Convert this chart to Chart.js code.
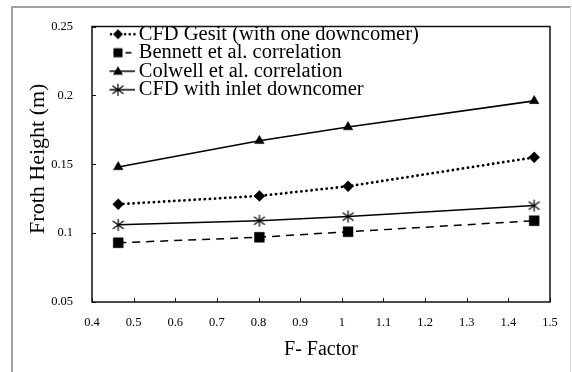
<!DOCTYPE html>
<html>
<head>
<meta charset="utf-8">
<script src="https://cdn.jsdelivr.net/npm/chart.js"></script>
<style>
  body { margin: 0; background: #fff; }
</style>
</head>
<body>
<canvas id="frothChart" width="572" height="372"></canvas>
<script>
// data
var fFactor = [0.463, 0.802, 1.015, 1.462];
var cfdGesit = [0.121, 0.127, 0.134, 0.155];
var bennett = [0.093, 0.097, 0.101, 0.109];
var colwell = [0.148, 0.167, 0.177, 0.196];
var cfdInlet = [0.106, 0.109, 0.112, 0.120];
var seriesNames = ['CFD Gesit (with one downcomer)', 'Bennett et al. correlation',
                   'Colwell et al. correlation', 'CFD with inlet downcomer'];
var xTickLabels = ['0.4', '0.5', '0.6', '0.7', '0.8', '0.9', '1', '1.1', '1.2', '1.3', '1.4', '1.5'];
var yTickLabels = ['0.05', '0.1', '0.15', '0.2', '0.25'];

function pairs(ys) {
  return fFactor.map(function(x, i) { return {x: x, y: ys[i]}; });
}

// excel style star marker (x with a vertical bar)
function drawStar(g, cx, cy) {
  g.save();
  g.strokeStyle = '#000';
  g.lineWidth = 1.2;
  g.setLineDash([]);
  g.beginPath();
  g.moveTo(cx, cy - 6); g.lineTo(cx, cy + 6);
  g.moveTo(cx - 5.5, cy - 4); g.lineTo(cx + 5.5, cy + 4);
  g.moveTo(cx + 5.5, cy - 4); g.lineTo(cx - 5.5, cy + 4);
  g.stroke();
  g.restore();
}
var starImg = document.createElement('canvas');
starImg.width = 14; starImg.height = 14;
drawStar(starImg.getContext('2d'), 7, 7);

// legend icons: line sample + marker
function makeIcon(dash, lw, cap, marker) {
  var c = document.createElement('canvas');
  c.width = 36; c.height = 16;
  var g = c.getContext('2d');
  g.strokeStyle = '#000';
  g.fillStyle = '#000';
  g.lineWidth = lw;
  g.lineCap = cap;
  g.setLineDash(dash);
  g.beginPath(); g.moveTo(1.5, 8); g.lineTo(35, 8); g.stroke();
  g.setLineDash([]);
  marker(g, 18, 8);
  return c;
}
var legendIcons = [
  makeIcon([0.1, 4.6], 2.6, 'round', function(g, x, y) {
    g.beginPath(); g.moveTo(x - 5, y); g.lineTo(x, y - 5); g.lineTo(x + 5, y); g.lineTo(x, y + 5); g.closePath(); g.fill();
  }),
  makeIcon([6, 6], 1.6, 'butt', function(g, x, y) {
    g.fillRect(x - 4.5, y - 4.5, 9, 9);
  }),
  makeIcon([], 1.6, 'butt', function(g, x, y) {
    g.beginPath(); g.moveTo(x, y - 5); g.lineTo(x + 5, y + 3.5); g.lineTo(x - 5, y + 3.5); g.closePath(); g.fill();
  }),
  makeIcon([], 1.6, 'butt', function(g, x, y) {
    drawStar(g, x, y);
  })
];

var frame_plug = {
  id: 'frame',
  beforeDraw: function(chart) {
    var ctx = chart.ctx;
    ctx.save();
    ctx.fillStyle = '#fff';
    ctx.fillRect(0, 0, chart.width, chart.height);
    // outer grey frame of the figure
    ctx.strokeStyle = '#a0a0a0';
    ctx.lineWidth = 2;
    ctx.beginPath();
    ctx.moveTo(12, 372); ctx.lineTo(12, 7); ctx.lineTo(571, 7);
    ctx.stroke();
    ctx.strokeStyle = '#dedede';
    ctx.lineWidth = 1;
    ctx.beginPath(); ctx.moveTo(570.5, 7); ctx.lineTo(570.5, 372); ctx.stroke();
    ctx.restore();
  },
  afterLayout: function(chart) {
    // put the legend inside the plot, top left
    var lg = chart.legend;
    if (!lg) return;
    lg.left = 109.5;
    lg.right = 550;
    lg.top = 26;
    lg.bottom = 300;
  },
  afterDraw: function(chart) {
    var ctx = chart.ctx,
        a = chart.chartArea,
        xs = chart.scales.x,
        ys = chart.scales.y;
    ctx.save();
    ctx.strokeStyle = '#111';
    ctx.lineWidth = 1.5;
    ctx.strokeRect(a.left, a.top, a.right - a.left, a.bottom - a.top);
    // inner tick marks
    ctx.lineWidth = 1;
    ctx.beginPath();
    xs.ticks.forEach(function(t) {
      var px = Math.round(xs.getPixelForValue(t.value)) + 0.5;
      ctx.moveTo(px, a.bottom); ctx.lineTo(px, a.bottom - 4);
    });
    ys.ticks.forEach(function(t) {
      var py = Math.round(ys.getPixelForValue(t.value)) + 0.5;
      ctx.moveTo(a.left, py); ctx.lineTo(a.left + 4, py);
    });
    ctx.stroke();
    ctx.restore();
  }
};

Chart.defaults.font.family = "'Liberation Serif', 'Times New Roman', serif";
Chart.defaults.color = '#000';

var ctx = document.getElementById('frothChart').getContext('2d');
var frothChart = new Chart(ctx, {
  type: 'line',
  plugins: [frame_plug],
  data: {
    datasets: [{
      label: seriesNames[0],
      data: pairs(cfdGesit),
      borderColor: '#000',
      backgroundColor: '#000',
      borderWidth: 2.8,
      borderDash: [0.1, 5],
      borderCapStyle: 'round',
      pointStyle: 'rectRot',
      pointRadius: 5.5,
      pointBorderWidth: 0.5
    }, {
      label: seriesNames[1],
      data: pairs(bennett),
      borderColor: '#000',
      backgroundColor: '#000',
      borderWidth: 1.5,
      borderDash: [8, 6],
      pointStyle: 'rect',
      pointRadius: 7,
      pointBorderWidth: 0.5
    }, {
      label: seriesNames[2],
      data: pairs(colwell),
      borderColor: '#000',
      backgroundColor: '#000',
      borderWidth: 1.6,
      pointStyle: 'triangle',
      pointRadius: 5.5,
      pointBorderWidth: 0.5
    }, {
      label: seriesNames[3],
      data: pairs(cfdInlet),
      borderColor: '#000',
      backgroundColor: '#000',
      borderWidth: 1.5,
      pointStyle: starImg,
      pointRadius: 6
    }]
  },
  options: {
    responsive: false,
    animation: false,
    events: [],
    devicePixelRatio: 1,
    layout: { padding: { left: 0, right: 22, top: 21.5, bottom: 0 } },
    elements: { line: { tension: 0 } },
    plugins: {
      tooltip: { enabled: false },
      legend: {
        position: 'chartArea',
        align: 'start',
        labels: {
          usePointStyle: true,
          pointStyleWidth: 21,
          padding: -2,
          color: '#000',
          font: { size: 20.5 },
          generateLabels: function(chart) {
            return chart.data.datasets.map(function(ds, i) {
              return { text: ds.label, pointStyle: legendIcons[i], fillStyle: '#000',
                       strokeStyle: '#000', lineWidth: 0, hidden: false, datasetIndex: i };
            });
          }
        }
      }
    },
    scales: {
      x: {
        type: 'linear',
        min: 0.4,
        max: 1.5,
        afterBuildTicks: function(s) {
          s.ticks = xTickLabels.map(function(l) { return {value: parseFloat(l)}; });
        },
        afterFit: function(s) { s.height = 70; },
        grid: { display: false, drawTicks: false },
        border: { display: false },
        ticks: {
          autoSkip: false,
          maxRotation: 0,
          padding: 13,
          font: { size: 12.5 },
          callback: function(v, i) { return xTickLabels[i]; }
        },
        title: { display: true, text: 'F- Factor', font: { size: 20 }, padding: { top: 0, bottom: 10 } }
      },
      y: {
        min: 0.05,
        max: 0.25,
        afterBuildTicks: function(s) {
          s.ticks = yTickLabels.map(function(l) { return {value: parseFloat(l)}; });
        },
        afterFit: function(s) { s.width = 92; },
        grid: { display: false, drawTicks: false },
        border: { display: false },
        ticks: {
          padding: 19,
          font: { size: 12.5 },
          callback: function(v, i) { return yTickLabels[i]; }
        },
        // two leading spaces nudge the rotated title upward like the original
        title: { display: true, text: '  Froth Height (m)', font: { size: 22 }, padding: { top: 25, bottom: 0 } }
      }
    }
  }
});
</script>
</body>
</html>
